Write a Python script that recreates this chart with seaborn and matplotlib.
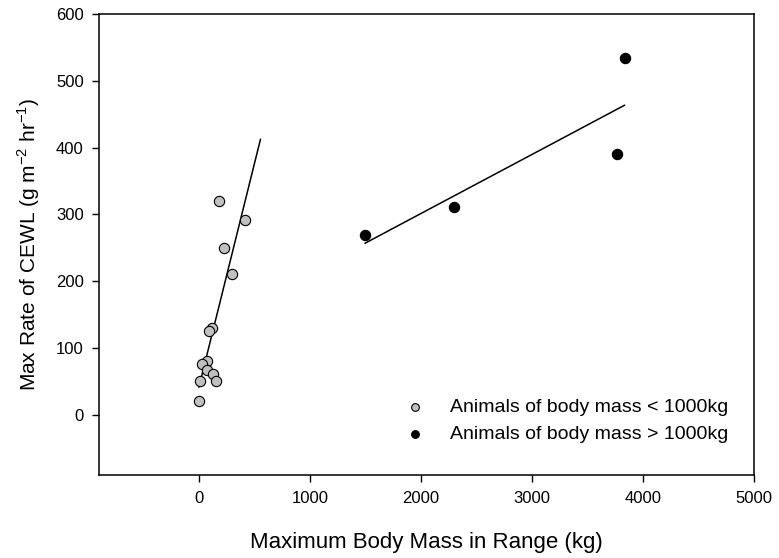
import numpy as np
import pandas as pd
import seaborn as sns
import matplotlib
matplotlib.use("Agg")
import matplotlib.pyplot as plt

# veriler
small_mass = [180, 417, 225, 297, 117, 93, 75, 24, 75, 123, 153, 9, 0]
small_cewl = [320.5, 291.5, 250, 210, 130.5, 125, 80.5, 75.5, 66.5, 60.5, 50.5, 50.5, 20]
large_mass = [1495, 2300, 3769, 3835]
large_cewl = [269.5, 311, 390.5, 534.5]

# regresyon çizgilerinin x aralığı
small_fit_range = [0, 555]
large_fit_range = [min(large_mass), max(large_mass)]

label_small = "Animals of body mass < 1000kg"
label_large = "Animals of body mass > 1000kg"

sns.set_theme(style="white")
plt.rcParams["font.family"] = ["Liberation Sans", "DejaVu Sans"]
plt.rcParams["axes.unicode_minus"] = False
for key in ["text.color", "axes.labelcolor", "xtick.color", "ytick.color", "axes.edgecolor"]:
    plt.rcParams[key] = "black"

df = pd.concat([
    pd.DataFrame({"mass": small_mass, "cewl": small_cewl, "group": label_small}),
    pd.DataFrame({"mass": large_mass, "cewl": large_cewl, "group": label_large}),
])

fig = plt.figure(figsize=(7.79, 5.58), dpi=100)
ax = fig.add_axes([0.127, 0.149, 0.841, 0.826])

# doğrusal uyum
fit_lines = []
for xs, ys, rng in [(small_mass, small_cewl, small_fit_range),
                    (large_mass, large_cewl, large_fit_range)]:
    b, a = np.polyfit(xs, ys, 1)
    xx = np.array(rng, dtype=float)
    fit_lines.append(pd.DataFrame({"x": xx, "y": a + b * xx}))

for fl in fit_lines:
    sns.lineplot(data=fl, x="x", y="y", color="black", linewidth=1.1, ax=ax)

sns.scatterplot(data=df[df.group == label_small], x="mass", y="cewl",
                color="#c0c0c0", edgecolor="black", linewidth=0.8, s=55,
                label=label_small, ax=ax, zorder=3)
sns.scatterplot(data=df[df.group == label_large], x="mass", y="cewl",
                color="black", edgecolor="black", linewidth=0.8, s=55,
                label=label_large, ax=ax, zorder=3)

ax.set_xlim(-900, 5000)
ax.set_ylim(-90, 600)
ax.set_xticks([0, 1000, 2000, 3000, 4000, 5000])
ax.set_yticks([0, 100, 200, 300, 400, 500, 600])
ax.tick_params(axis="both", which="major", direction="out", length=5, width=1,
               color="black", labelcolor="black", labelsize=12, bottom=True, left=True,
               top=False, right=False)
ax.tick_params(axis="x", pad=6.5)
ax.tick_params(axis="y", pad=6)
for sp in ax.spines.values():
    sp.set_color("black")
    sp.set_linewidth(1.1)

ax.set_xlabel("Maximum Body Mass in Range (kg)", fontsize=16, labelpad=19)
ax.set_ylabel("Max Rate of CEWL (g m$^{\\mathregular{-2}}$ hr$^{\\mathregular{-1}}$)",
              fontsize=15, labelpad=10)

leg = ax.legend(loc="lower right", frameon=False, fontsize=14, markerscale=0.75,
                handletextpad=0.8, borderaxespad=0, labelspacing=0.5,
                bbox_to_anchor=(0.9725, 0.052))

fig.savefig("out.png", dpi=100)
